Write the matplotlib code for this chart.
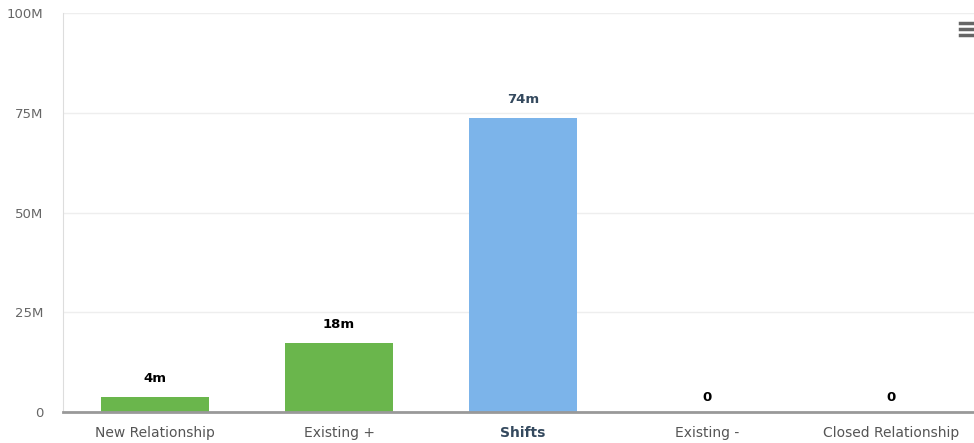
import matplotlib.pyplot as plt
from matplotlib.lines import Line2D

categories = ["New Relationship", "Existing +", "Shifts", "Existing -", "Closed Relationship"]
values = [3.8, 17.4, 73.8, 0, 0]  # millions
labels = ["4m", "18m", "74m", "0", "0"]
colors = ["#6ab64c", "#6ab64c", "#7cb4ea", "#6ab64c", "#6ab64c"]
y_ticks = [0, 25, 50, 75, 100]
y_tick_labels = ["0", "25M", "50M", "75M", "100M"]

fig = plt.figure(figsize=(9.74, 4.43), dpi=100)
# plot area runs past the right edge of the picture (clipped like the original)
ax = fig.add_axes([63 / 974, 31 / 443, 920 / 974, 399 / 443])

x = range(len(categories))
ax.bar(x, values, width=0.59, color=colors, zorder=3)

for i, (v, lab) in enumerate(zip(values, labels)):
    c = "#34495e" if i == 2 else "black"
    ax.annotate(lab, (i, v), xytext=(0, 8.5 if v else 6), textcoords="offset points",
                ha="center", va="bottom", fontsize=9.5, fontweight="bold", color=c)

ax.set_xlim(-0.5, 4.5)
ax.set_ylim(0, 100)
ax.set_yticks(y_ticks)
ax.set_yticklabels(y_tick_labels, color="#666666", fontsize=9.5)
ax.set_xticks(list(x))
ax.set_xticklabels(categories, fontsize=10, color="#555555")
lbl = ax.get_xticklabels()[2]
lbl.set_fontweight("bold")
lbl.set_color("#34495e")
ax.tick_params(axis="both", length=0)
ax.tick_params(axis="y", pad=14)
ax.tick_params(axis="x", pad=10)

ax.grid(axis="y", color="#eeeeee", linewidth=1, zorder=0)
for s in ["top", "right"]:
    ax.spines[s].set_visible(False)
ax.spines["left"].set_color("#dddddd")
ax.spines["bottom"].set_color("#999999")
ax.spines["bottom"].set_linewidth(2)
ax.spines["bottom"].set_zorder(4)

# menu icon
for yy in [23, 29, 35]:
    fig.add_artist(Line2D([960 / 974, 974 / 974], [1 - yy / 443] * 2,
                          color="#666666", linewidth=2.5, transform=fig.transFigure))

fig.savefig("out.png", dpi=100)
